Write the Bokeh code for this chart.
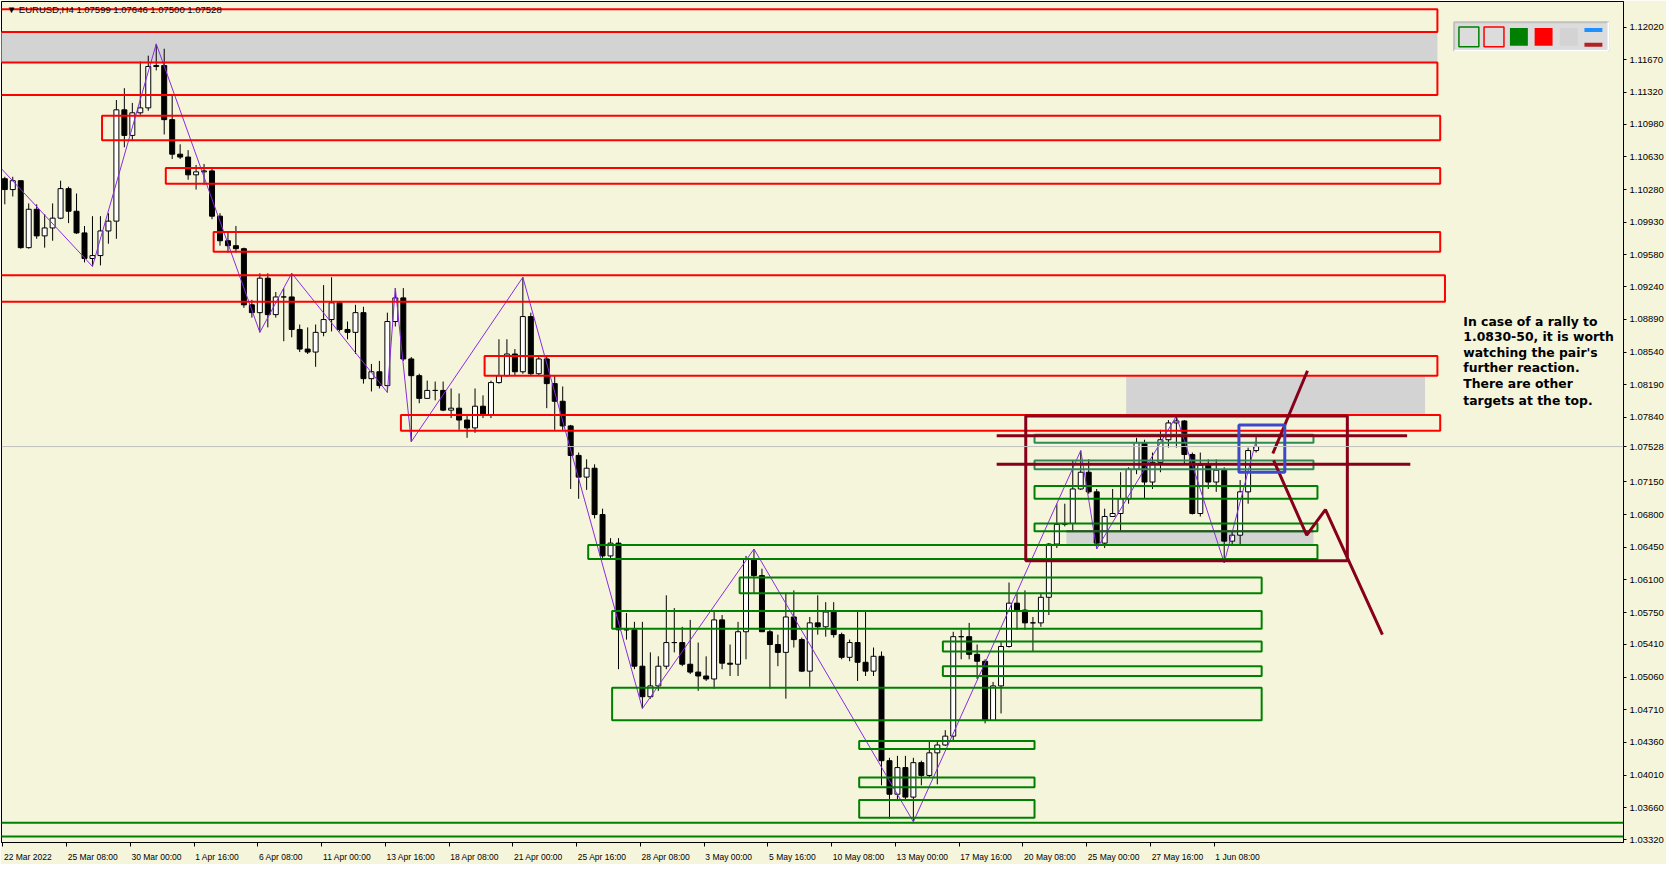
from bokeh.plotting import figure
from bokeh.models import (Range1d, FixedTicker, PrintfTickFormatter, Label, Span, LinearAxis,
                          CustomLabelingPolicy)
from bokeh.embed import file_html
from bokeh.resources import INLINE
from bokeh.core.properties import value

# ---------------- data (EURUSD H4, one candle per two H4 bars) ----------------
first_open = 1.10396
closes = [
    1.10280, 1.10375, 1.09658, 1.10069, 1.09784, 1.09869, 1.09974, 1.10290, 1.10048, 1.09816,
    1.09542, 1.09573, 1.09837, 1.09942, 1.11134, 1.10860, 1.11102, 1.11155, 1.11598, 1.11608,
    1.11029, 1.10659, 1.10628, 1.10438, 1.10470, 1.10480, 1.09995, 1.09732, 1.09679, 1.09647,
    1.09046, 1.08962, 1.09331, 1.08941, 1.09130, 1.09130, 1.08782, 1.08572, 1.08540, 1.08751,
    1.08888, 1.09067, 1.08782, 1.08751, 1.08962, 1.08255, 1.08329, 1.08181, 1.08867, 1.09120,
    1.08466, 1.08287, 1.08044, 1.08129, 1.08129, 1.07918, 1.07939, 1.07812, 1.07728, 1.07960,
    1.07865, 1.08213, 1.08287, 1.08519, 1.08329, 1.08920, 1.08308, 1.08466, 1.08202, 1.08013,
    1.07749, 1.07433, 1.07201, 1.07296, 1.06800, 1.06357, 1.06494, 1.05566, 1.05566, 1.05176,
    1.04849, 1.04965, 1.05176, 1.05429, 1.05429, 1.05197, 1.05113, 1.05071, 1.05039, 1.05672,
    1.05208, 1.05197, 1.05545, 1.06325, 1.06146, 1.05545, 1.05408, 1.05324, 1.05703, 1.05461,
    1.05123, 1.05640, 1.05598, 1.05756, 1.05514, 1.05271, 1.05429, 1.05218, 1.05123, 1.05282,
    1.04164, 1.03805, 1.04090, 1.03774, 1.04143, 1.04006, 1.04248, 1.04332, 1.04427, 1.05492,
    1.05492, 1.05303, 1.05229, 1.04596, 1.04965, 1.05387, 1.05851, 1.05777, 1.05640, 1.05640,
    1.05914, 1.06484, 1.06695, 1.06705, 1.07074, 1.07253, 1.07043, 1.06494, 1.06779, 1.06811,
    1.06969, 1.07285, 1.07570, 1.07148, 1.07359, 1.07601, 1.07781, 1.07802, 1.07443, 1.06811,
    1.07327, 1.07148, 1.07275, 1.06515, 1.06579, 1.07043, 1.07485, 1.07528]
highs = [
    1.10417, 1.10417, 1.10375, 1.10132, 1.10122, 1.10016, 1.10132, 1.10375, 1.10311, 1.10238,
    1.09890, 1.09995, 1.09995, 1.10027, 1.11239, 1.11366, 1.11208, 1.11651, 1.11714, 1.11840,
    1.11788, 1.11292, 1.10765, 1.10702, 1.10543, 1.10554, 1.10522, 1.10027, 1.09816, 1.09890,
    1.09658, 1.09099, 1.09384, 1.09384, 1.09183, 1.09225, 1.09384, 1.08835, 1.08804, 1.08835,
    1.09257, 1.09341, 1.09078, 1.08867, 1.09046, 1.09025, 1.08413, 1.08445, 1.08962, 1.09225,
    1.09225, 1.08487, 1.08308, 1.08234, 1.08224, 1.08224, 1.08150, 1.08097, 1.07865, 1.08150,
    1.08076, 1.08234, 1.08677, 1.08677, 1.08572, 1.09341, 1.08962, 1.08498, 1.08498, 1.08287,
    1.08171, 1.07760, 1.07464, 1.07391, 1.07338, 1.06863, 1.06547, 1.06547, 1.05745, 1.05651,
    1.05651, 1.05324, 1.05282, 1.05935, 1.05798, 1.05598, 1.05672, 1.05429, 1.05282, 1.05756,
    1.05724, 1.05408, 1.05651, 1.06357, 1.06431, 1.06220, 1.05566, 1.05514, 1.05956, 1.05988,
    1.05482, 1.05703, 1.05935, 1.05862, 1.05862, 1.05535, 1.05461, 1.05777, 1.05777, 1.05376,
    1.05334, 1.04195, 1.04216, 1.04216, 1.04195, 1.04164, 1.04375, 1.04385, 1.04491, 1.05545,
    1.05566, 1.05640, 1.05408, 1.05250, 1.05007, 1.05440, 1.06072, 1.05956, 1.05988, 1.05703,
    1.05956, 1.06494, 1.06916, 1.06916, 1.07380, 1.07485, 1.07391, 1.07074, 1.06863, 1.07074,
    1.07253, 1.07306, 1.07622, 1.07601, 1.07464, 1.07707, 1.07812, 1.07854, 1.07812, 1.07464,
    1.07464, 1.07391, 1.07391, 1.07306, 1.06621, 1.07169, 1.07517, 1.07646]
lows = [
    1.10122, 1.10206, 1.09647, 1.09647, 1.09753, 1.09658, 1.09732, 1.09963, 1.09921, 1.09805,
    1.09500, 1.09457, 1.09468, 1.09700, 1.09753, 1.10733, 1.10807, 1.11081, 1.11123, 1.11556,
    1.10870, 1.10607, 1.10607, 1.10385, 1.10280, 1.10333, 1.09963, 1.09679, 1.09605, 1.09605,
    1.09014, 1.08909, 1.08751, 1.08804, 1.08909, 1.08656, 1.08698, 1.08540, 1.08519, 1.08382,
    1.08709, 1.08761, 1.08761, 1.08677, 1.08519, 1.08202, 1.08118, 1.08150, 1.08108, 1.08814,
    1.08445, 1.07580, 1.07992, 1.08044, 1.08023, 1.07907, 1.07833, 1.07707, 1.07622, 1.07675,
    1.07833, 1.07833, 1.08202, 1.08276, 1.08287, 1.08308, 1.08287, 1.08287, 1.07939, 1.07707,
    1.07707, 1.07074, 1.06969, 1.07064, 1.06758, 1.06336, 1.06336, 1.05144, 1.05461, 1.05144,
    1.04723, 1.04828, 1.04912, 1.05144, 1.05324, 1.05176, 1.05092, 1.04912, 1.05018, 1.04934,
    1.05144, 1.05071, 1.05071, 1.05250, 1.05956, 1.05545, 1.04934, 1.05176, 1.04828, 1.05376,
    1.05113, 1.04955, 1.05514, 1.05492, 1.05482, 1.05250, 1.05229, 1.05018, 1.05071, 1.05071,
    1.03900, 1.03542, 1.03752, 1.03742, 1.03510, 1.03900, 1.03984, 1.03911, 1.04322, 1.04385,
    1.05250, 1.05250, 1.05039, 1.04564, 1.04596, 1.04670, 1.05376, 1.05566, 1.05566, 1.05334,
    1.05598, 1.05724, 1.06441, 1.06673, 1.06621, 1.07064, 1.07021, 1.06431, 1.06441, 1.06779,
    1.06621, 1.06916, 1.07232, 1.06969, 1.07074, 1.07253, 1.07517, 1.07517, 1.07338, 1.06800,
    1.06779, 1.07074, 1.07043, 1.06283, 1.06463, 1.06484, 1.06916, 1.07464]

current_price = 1.07528
header_text = "\u25BC EURUSD,H4  1.07599 1.07646 1.07500 1.07528"

date_ticks = [0, 16, 32, 48, 64, 80, 96, 112, 128, 144, 160, 176, 192, 208, 224, 240, 256, 272, 288, 304]
date_labels = ["22 Mar 2022", "25 Mar 08:00", "30 Mar 00:00", "1 Apr 16:00", "6 Apr 08:00",
               "11 Apr 00:00", "13 Apr 16:00", "18 Apr 08:00", "21 Apr 00:00", "25 Apr 16:00",
               "28 Apr 08:00", "3 May 00:00", "5 May 16:00", "10 May 08:00", "13 May 00:00",
               "17 May 16:00", "20 May 08:00", "25 May 00:00", "27 May 16:00", "1 Jun 08:00"]
price_ticks = [1.12020, 1.11670, 1.11320, 1.10980, 1.10630, 1.10280, 1.09930, 1.09580, 1.09240,
               1.08890, 1.08540, 1.08190, 1.07840, 1.07528, 1.07150, 1.06800, 1.06450, 1.06100,
               1.05750, 1.05410, 1.05060, 1.04710, 1.04360, 1.04010, 1.03660, 1.03320]

# zigzag (bar index, price)
zz_bar = [-0.3, 22.5, 38.5, 64.5, 72.5, 96.5, 98.5, 102.5, 130.5, 160.5, 188.5, 228.5, 270.5, 274.5, 294.5, 306.5, 314.5]
zz_price = [1.10501, 1.09457, 1.11840, 1.08751, 1.09384, 1.08108, 1.09225, 1.07580, 1.09341, 1.04723,
            1.06431, 1.03510, 1.07485, 1.06431, 1.07854, 1.06283, 1.07591]

# resistance zones (red outlines)
red_left = [-5, -5, 24.9, 40.9, 52.9, -5, 120.9, 99.9]
red_right = [360, 360, 360.7, 360.7, 360.7, 361.9, 360, 360.7]
red_top = [1.12210, 1.11640, 1.11071, 1.10512, 1.09826, 1.09362, 1.08498, 1.07865]
red_bottom = [1.11967, 1.11292, 1.10807, 1.10343, 1.09615, 1.09078, 1.08287, 1.07696]

# grey target zones
gray_left = [-5, 281.9, 266.9]
gray_right = [360, 356.9, 328.9]
gray_top = [1.11967, 1.08276, 1.06621]
gray_bottom = [1.11640, 1.07876, 1.06473]

# support zones (green outlines)
green_left = [258.9, 258.9, 146.9, 184.9, 152.9, 235.9, 235.9, 152.9, 214.9, 214.9, 214.9, -5]
green_right = [329.9, 329.9, 329.9, 315.9, 315.9, 315.9, 315.9, 315.9, 258.9, 258.9, 258.9, 420]
green_top = [1.07106, 1.06705, 1.06473, 1.06125, 1.05767, 1.05440, 1.05176, 1.04944, 1.04375, 1.03984, 1.03742, 1.03499]
green_bottom = [1.06969, 1.06621, 1.06325, 1.05956, 1.05577, 1.05334, 1.05071, 1.04596, 1.04290, 1.03879, 1.03552, 1.03352]
sea_left = [258.9, 258.9]
sea_right = [328.9, 328.9]
sea_top = [1.07654, 1.07380]
sea_bottom = [1.07570, 1.07285]

# range box, levels and scenario paths
box_left, box_right, box_top, box_bottom = 256.7, 337.4, 1.07854, 1.06304
level_prices = [1.07644, 1.07338]
level_left = [249.4, 249.4]
level_right = [352.4, 353.2]
path_up_bar = [318.7, 327.4]
path_up_price = [1.07454, 1.08340]
path_down_bar = [318.9, 327.2, 331.9, 346.2]
path_down_price = [1.07380, 1.06579, 1.06853, 1.05514]
blue_left, blue_right, blue_top, blue_bottom = 310.2, 321.7, 1.07760, 1.07253

note_lines = ["In case of a rally to", "1.0830-50, it is worth", "watching the pair's",
              "further reaction.", "There are other", "targets at the top."]
note_prices = [1.08867, 1.08709, 1.08540, 1.08371, 1.08202, 1.08023]

# ---------------- figure ----------------
BG = "#F5F5DC"
X0, X1 = -0.33, 406.7
FIG_W, FIG_H = 1666, 864
p = figure(width=FIG_W, height=FIG_H, x_range=Range1d(X0, X1), y_range=Range1d(1.03288, 1.12294),
           output_backend="svg", toolbar_location=None, y_axis_location="right",
           x_axis_label=None, y_axis_label=None,
           background_fill_color=BG, border_fill_color=BG,
           min_border_left=1, min_border_top=1, min_border_right=0, min_border_bottom=0)
p.xgrid.visible = False
p.ygrid.visible = False
p.outline_line_color = "black"
p.outline_line_width = 1

# price axis (right)
p.yaxis.axis_label = None
p.yaxis.ticker = FixedTicker(ticks=price_ticks)
p.yaxis.formatter = PrintfTickFormatter(format="%.5f")
p.yaxis.major_label_text_font = "Liberation Sans"
p.yaxis.major_label_text_font_size = "9.5px"
p.yaxis.major_label_text_color = "black"
p.yaxis.major_tick_out = 3
p.yaxis.major_tick_in = 0
p.yaxis.minor_tick_out = 0
p.yaxis.minor_tick_in = 0
p.yaxis.major_label_standoff = 3
p.yaxis.axis_label_standoff = 0
p.yaxis.axis_line_color = "black"

# time axis: tick marks on the main axis (its own labels suppressed),
# labels left-aligned at each tick on a second axis below it
p.xaxis.axis_label = None
p.xaxis.ticker = FixedTicker(ticks=date_ticks)
p.xaxis.major_label_policy = CustomLabelingPolicy(
    code="for (const i of indices) { indices.unset(i) }\nreturn indices")
p.xaxis.major_label_text_font_size = "1px"
p.xaxis.major_label_standoff = 0
p.xaxis.axis_label_standoff = 0
p.xaxis.major_tick_out = 4
p.xaxis.major_tick_in = 0
p.xaxis.minor_tick_out = 0
p.xaxis.minor_tick_in = 0
p.xaxis.axis_line_color = "black"

FS = 8.5
cw = {"M": 0.833, "a": 0.556, "r": 0.333, "A": 0.667, "p": 0.556, "y": 0.5, "J": 0.5, "u": 0.556,
      "n": 0.556, " ": 0.278, ":": 0.278}
px_per_bar = (FIG_W - 1 - 52) / (X1 - X0)
label_pos = []
for t, s in zip(date_ticks, date_labels):
    w = sum(cw.get(ch, 0.556) for ch in s) * FS
    label_pos.append(round(t + (w / 2 + 1) / px_per_bar, 3))
lab_axis = LinearAxis(ticker=FixedTicker(ticks=label_pos), axis_label=None,
                      major_label_overrides={pos: s for pos, s in zip(label_pos, date_labels)},
                      axis_line_color=None, major_tick_line_color=None, minor_tick_line_color=None,
                      major_tick_out=0, major_tick_in=0, minor_tick_out=0, minor_tick_in=0,
                      major_label_standoff=1, axis_label_standoff=0,
                      major_label_text_font="Liberation Sans",
                      major_label_text_font_size="%spx" % FS, major_label_text_color="black")
p.add_layout(lab_axis, "below")

# grey filled zones (behind price)
p.quad(left=gray_left, right=gray_right, top=gray_top, bottom=gray_bottom,
       fill_color="#D3D3D3", line_color=None)

# current price line
p.add_layout(Span(location=current_price, dimension="width", line_color="#C0C0C0", line_width=1))

# candles
opens = [first_open] + closes[:-1]
xs = [2 * i + 0.5 for i in range(len(closes))]
up_x = [x for x, o, c in zip(xs, opens, closes) if c >= o]
up_top = [c for o, c in zip(opens, closes) if c >= o]
up_bot = [o for o, c in zip(opens, closes) if c >= o]
dn_x = [x for x, o, c in zip(xs, opens, closes) if c < o]
dn_top = [o for o, c in zip(opens, closes) if c < o]
dn_bot = [c for o, c in zip(opens, closes) if c < o]
p.segment(x0=xs, y0=lows, x1=xs, y1=highs, line_color="black", line_width=1)
p.vbar(x=up_x, top=up_top, bottom=up_bot, width=1.25, fill_color="white", line_color="black", line_width=1)
p.vbar(x=dn_x, top=dn_top, bottom=dn_bot, width=1.25, fill_color="black", line_color="black", line_width=1)

# zigzag
p.line(zz_bar, zz_price, line_color="#8A2BE2", line_width=1)

# zone outlines
p.quad(left=red_left, right=red_right, top=red_top, bottom=red_bottom,
       fill_color=None, line_color="#FF0000", line_width=2)
p.quad(left=green_left, right=green_right, top=green_top, bottom=green_bottom,
       fill_color=None, line_color="#008000", line_width=2)
p.quad(left=sea_left, right=sea_right, top=sea_top, bottom=sea_bottom,
       fill_color=None, line_color="#2E8B57", line_width=2)
p.segment(x0=[gray_left[2]], y0=[gray_top[2]], x1=[gray_right[2]], y1=[gray_top[2]],
          line_color="#2F4F2F", line_width=2)

# range box, levels, scenario
MAROON = "#86001A"
p.quad(left=[box_left], right=[box_right], top=[box_top], bottom=[box_bottom],
       fill_color=None, line_color=MAROON, line_width=3)
p.segment(x0=level_left, y0=level_prices, x1=level_right, y1=level_prices,
          line_color=MAROON, line_width=3)
p.line(path_up_bar, path_up_price, line_color=MAROON, line_width=3)
p.line(path_down_bar, path_down_price, line_color=MAROON, line_width=3)
p.quad(left=[blue_left], right=[blue_right], top=[blue_top], bottom=[blue_bottom],
       fill_color=None, line_color="#3F48CC", line_width=3)

# note text
p.text(x=[366.5] * len(note_lines), y=note_prices, text=note_lines,
       text_font=value("DejaVu Sans"), text_font_style="bold", text_font_size=value("12.4px"),
       text_color="#000000", text_baseline="middle", text_align="left")

# header
p.add_layout(Label(x=1.0, y=1.12212, text=header_text, text_font="Liberation Sans",
                   text_font_size="9.5px", text_color="black", text_baseline="middle"))

# toolbar-like legend box (top right)
p.quad(left=[364.2], right=[402.9], top=[1.12072], bottom=[1.11767],
       fill_color="#DCDCDC", line_color="#C0C0C0", line_width=2)
p.segment(x0=[364.2, 402.9], y0=[1.11767, 1.11767], x1=[402.9, 402.9], y1=[1.11767, 1.12072],
          line_color="white", line_width=2)
p.quad(left=[365.4, 371.7], right=[370.4, 376.7], top=[1.12020, 1.12020], bottom=[1.11809, 1.11809],
       fill_color=None, line_color=["#008000", "#FF0000"], line_width=1.5)
p.quad(left=[378.2, 384.4, 390.7], right=[382.7, 388.9, 395.2], top=[1.12009] * 3, bottom=[1.11819] * 3,
       fill_color=["#008000", "#FF0000", "#D3D3D3"], line_color=None)
p.quad(left=[396.9, 396.9], right=[401.4, 401.4], top=[1.12009, 1.11851], bottom=[1.11967, 1.11809],
       fill_color=["#1E90FF", "#B22222"], line_color=None)

open("out.html", "w").write(file_html(p, INLINE))
